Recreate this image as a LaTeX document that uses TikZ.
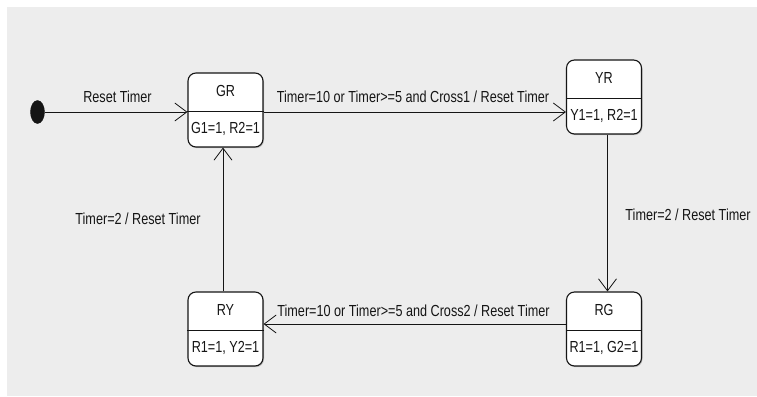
\documentclass[tikz,border=0pt]{standalone}
\usepackage{fontspec}
\setmainfont{Liberation Sans}[FakeStretch=0.79]
\usetikzlibrary{arrows.meta,shadows,shapes.geometric}
\definecolor{bggrey}{HTML}{EDEDED}
\definecolor{ink}{HTML}{151515}
\tikzset{
  statebox/.style={draw=ink, line width=1.1pt, fill=white, rounded corners=8pt,
    minimum width=75pt, minimum height=74pt, inner sep=0pt,
    drop shadow={shadow xshift=1pt, shadow yshift=-1.2pt, opacity=0.35, fill=black!60}},
  lbl/.style={text=ink, inner sep=0pt, font=\fontsize{16}{18}\selectfont},
  arr/.style={draw=ink, line width=0.8pt, -{Straight Barb[length=12pt,width=18pt,line width=0.8pt]}},
  initdot/.style={ellipse, fill=ink, draw=ink, minimum width=14pt, minimum height=23pt, inner sep=0pt}
}
\begin{document}
\begin{tikzpicture}[x=1pt,y=-1pt]
\useasboundingbox (0,0) rectangle (757,396);
\fill[white] (0,0) rectangle (757,396);
\fill[bggrey] (7,7) rectangle (757,396);

% states
\node[statebox] (GR) at (225.5,110) {};
\node[statebox] (YR) at (604,97) {};
\node[statebox] (RY) at (225.5,329) {};
\node[statebox] (RG) at (604,329) {};

\foreach \s/\a/\b in {GR/GR/{G1=1, R2=1}, YR/YR/{Y1=1, R2=1}, RY/RY/{R1=1, Y2=1}, RG/RG/{R1=1, G2=1}} {
  \draw[draw=ink, line width=1pt] ([yshift=-1.5pt]\s.west) -- ([yshift=-1.5pt]\s.east);
  \node[lbl] (\s-name) at ([yshift=19pt]\s.center) {\a};
  \node[lbl] (\s-act) at ([yshift=-18.5pt]\s.center) {\b};
}

% initial state
\node[initdot] (init) at (37.5,112) {};

% connectors
\draw[arr] (init.east) -- (GR.west |- init.east);
\draw[arr] (GR.east |- 0,112) -- (YR.west |- 0,112);
\draw[arr] ([xshift=3.5pt]YR.south) -- ([xshift=3.5pt]RG.north);
\draw[arr] (RG.west |- 0,324) -- (RY.east |- 0,324);
\draw[arr] ([xshift=-2.5pt]RY.north) -- ([xshift=-2.5pt]GR.south);

% labels
\node[lbl] (l1) at (117.5,97) {Reset Timer};
\node[lbl] (l2) at (413,97) {Timer=10 or Timer>=5 and Cross1 / Reset Timer};
\node[lbl] (l3) at (688,215) {Timer=2 / Reset Timer};
\node[lbl] (l4) at (413.5,311) {Timer=10 or Timer>=5 and Cross2 / Reset Timer};
\node[lbl] (l5) at (138,219) {Timer=2 / Reset Timer};
\end{tikzpicture}
\end{document}
